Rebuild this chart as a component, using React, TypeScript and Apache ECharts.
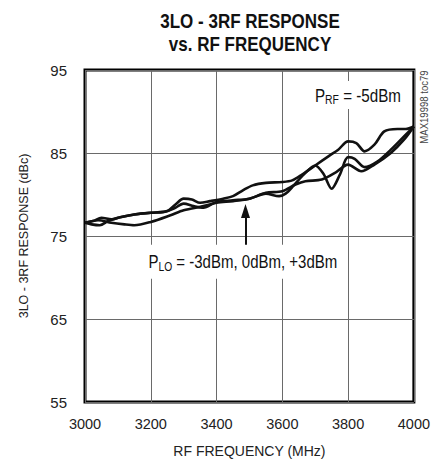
import React, { useEffect, useRef } from 'react';
import * as echarts from 'echarts';

const FONT = '"Liberation Sans", Arial, Helvetica, sans-serif';

// P_LO curves (three LO power levels)
const freqA = [3000, 3025, 3050, 3080, 3110, 3150, 3200, 3250, 3275, 3300, 3325, 3350, 3380, 3420, 3450, 3480, 3510, 3550, 3600, 3630, 3660, 3700, 3740, 3770, 3800, 3825, 3850, 3880, 3910, 3950, 3975, 4000];
const respA = [76.6, 76.8, 77.2, 77.0, 77.3, 77.6, 77.8, 78.0, 78.8, 79.5, 79.4, 79.0, 79.2, 79.5, 79.8, 80.5, 81.1, 81.4, 81.5, 81.7, 82.4, 83.5, 84.6, 85.4, 86.4, 86.2, 85.2, 86.0, 87.6, 87.9, 87.9, 88.2];

const freqB = [3000, 3020, 3045, 3070, 3100, 3150, 3200, 3240, 3270, 3300, 3330, 3360, 3400, 3450, 3500, 3550, 3590, 3610, 3635, 3665, 3700, 3725, 3750, 3775, 3800, 3820, 3850, 3890, 3930, 3970, 4000];
const respB = [76.6, 76.4, 76.3, 76.8, 77.2, 77.6, 77.8, 77.9, 78.3, 78.9, 78.6, 78.4, 79.1, 79.3, 79.5, 80.1, 79.8, 80.1, 81.1, 82.4, 83.5, 82.5, 80.7, 82.4, 84.5, 84.3, 83.3, 84.0, 85.4, 87.0, 88.2];

const freqC = [3000, 3040, 3080, 3120, 3150, 3200, 3260, 3300, 3360, 3400, 3450, 3500, 3550, 3600, 3640, 3670, 3720, 3760, 3800, 3840, 3880, 3930, 3970, 4000];
const respC = [76.6, 76.9, 76.6, 76.4, 76.3, 76.7, 77.5, 78.1, 78.6, 79.0, 79.2, 79.5, 80.2, 80.4, 81.2, 81.6, 81.8, 82.6, 83.6, 82.8, 83.6, 85.0, 86.6, 88.2];

// annotation anchors (data space)
const prfLabelAt = [3830, 92.0];
const ploLabelAt = [3480, 71.9];
const arrowFrom = [3488, 73.8];
const arrowTo = [3488, 78.0];

const zip = (xs: number[], ys: number[]) => xs.map((x, i) => [x, ys[i]]);

const rich = {
  m: { fontFamily: FONT, fontSize: 19, fill: '#111', lineHeight: 22, verticalAlign: 'middle' },
  s: { fontFamily: FONT, fontSize: 13, fill: '#111', lineHeight: 12, verticalAlign: 'bottom' },
};

export default function App() {
  const ref = useRef<HTMLDivElement>(null);
  useEffect(() => {
    const chart = echarts.init(ref.current!, null, { renderer: 'svg' });
    const lineBase = {
      type: 'line',
      showSymbol: false,
      smooth: 0.3,
      lineStyle: { color: '#111', width: 2.6 },
      itemStyle: { color: '#111' },
      z: 3,
    };
    chart.setOption({
      animation: false,
      backgroundColor: '#fff',
      grid: { left: 85, right: 17, top: 70, bottom: 62, show: true, borderColor: '#000', borderWidth: 3, backgroundColor: 'transparent' },
      xAxis: {
        type: 'value', min: 3000, max: 4000, interval: 200,
        axisLine: { show: false }, axisTick: { show: false },
        splitLine: { show: true, lineStyle: { color: '#6a6a6a', width: 1 } },
        axisLabel: { fontFamily: FONT, fontSize: 14.5, color: '#222', margin: 14, formatter: (v: number) => String(v) },
        name: 'RF FREQUENCY (MHz)', nameLocation: 'middle', nameGap: 42,
        nameTextStyle: { fontFamily: FONT, fontSize: 14, color: '#222' },
      },
      yAxis: {
        type: 'value', min: 55, max: 95, interval: 10,
        axisLine: { show: false }, axisTick: { show: false },
        splitLine: { show: true, lineStyle: { color: '#6a6a6a', width: 1 } },
        axisLabel: { fontFamily: FONT, fontSize: 15, color: '#222', margin: 18 },
        name: '3LO - 3RF RESPONSE (dBc)', nameLocation: 'middle', nameGap: 55,
        nameTextStyle: { fontFamily: FONT, fontSize: 12.5, color: '#222' },
      },
      series: [
        { ...lineBase, name: 'A', data: zip(freqA, respA) },
        {
          ...lineBase, name: 'B', data: zip(freqB, respB),
          markLine: {
            silent: true, symbol: ['none', 'triangle'], symbolSize: [9, 14],
            lineStyle: { color: '#111', width: 2, type: 'solid' }, label: { show: false },
            data: [[{ coord: arrowFrom }, { coord: arrowTo }]],
          },
        },
        { ...lineBase, name: 'C', data: zip(freqC, respC) },
      ],
    });

    const prf = chart.convertToPixel({ gridIndex: 0 }, prfLabelAt) as number[];
    const plo = chart.convertToPixel({ gridIndex: 0 }, ploLabelAt) as number[];
    chart.setOption({
      graphic: [
        {
          type: 'text', x: 250, y: 9, z: 10, scaleX: 0.81,
          style: { text: '3LO - 3RF RESPONSE\nvs. RF FREQUENCY', align: 'center', verticalAlign: 'top', fontFamily: FONT, fontWeight: 'bold', fontSize: 21, lineHeight: 23, fill: '#111' },
        },
        {
          type: 'text', x: 424, y: 107, rotation: Math.PI / 2, z: 10, scaleX: 0.87,
          style: { text: 'MAX19998 toc79', align: 'center', verticalAlign: 'middle', fontFamily: FONT, fontSize: 11, fill: '#444' },
        },
        {
          type: 'text', x: prf[0], y: prf[1], z: 10, scaleX: 0.8,
          style: { text: '{m|P}{s|RF}{m| = -5dBm}', rich, align: 'center', verticalAlign: 'middle', backgroundColor: '#fff', padding: [3, 4] },
        },
        {
          type: 'text', x: plo[0], y: plo[1], z: 10, scaleX: 0.79,
          style: { text: '{m|P}{s|LO}{m| = -3dBm, 0dBm, +3dBm}', rich, align: 'center', verticalAlign: 'middle', backgroundColor: '#fff', padding: [6, 4] },
        },
      ],
    });
    return () => chart.dispose();
  }, []);
  return <div ref={ref} style={{ position: 'fixed', left: 0, top: 0, width: 433, height: 464, background: '#fff' }} />;
}
